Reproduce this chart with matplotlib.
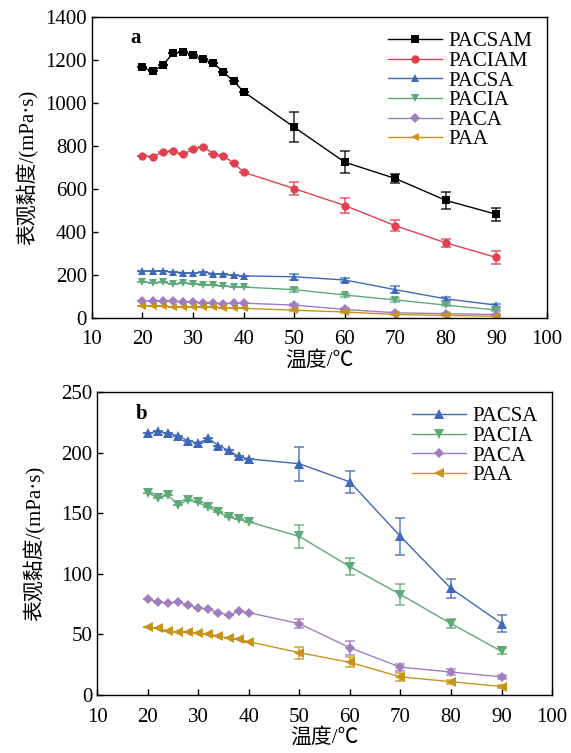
import matplotlib
matplotlib.use('Agg')
from matplotlib import pyplot as plt

plt.rcParams['font.family'] = ['Liberation Serif', 'Noto Sans CJK SC']

# 温度
temps = [20, 22, 24, 26, 28, 30, 32, 34, 36, 38, 40, 50, 60, 70, 80, 90]

# 表观黏度 and error bars (only 50-90 °C have visible error bars)
pacsam = [1168, 1148, 1176, 1232, 1240, 1224, 1204, 1187, 1145, 1103, 1053, 888, 725, 649, 547, 482]
pacsam_err = [0] * 11 + [70, 50, 23, 40, 31]
paciam = [755, 751, 771, 776, 762, 785, 796, 765, 753, 722, 678, 602, 523, 429, 349, 281]
paciam_err = [0] * 11 + [30, 33, 26, 18, 31]
pacsa = [216, 218, 216, 214, 210, 208, 212, 206, 202, 197, 195, 191, 176, 131, 88, 59]
pacsa_err = [0] * 11 + [14, 9, 15, 8, 7]
pacia = [167, 163, 165, 157, 161, 159, 155, 151, 147, 145, 143, 131, 106, 83, 59, 36]
pacia_err = [0] * 11 + [9.6, 7, 8.7, 4, 2.5]
paca = [79, 77, 76, 77, 74, 72, 71, 68, 66, 69, 68, 59, 39, 23, 19, 15]
paca_err = [0] * 11 + [4, 6, 3, 2.7, 1.5]
paa = [56, 55, 53, 52, 52, 51, 50, 49, 47, 46, 44, 35, 27, 15, 11, 7]
paa_err = [0] * 11 + [5, 4, 3.3, 1.5, 1]

series = [
    ('PACSAM', pacsam, pacsam_err, '#000000', 's'),
    ('PACIAM', paciam, paciam_err, '#e0404f', 'o'),
    ('PACSA', pacsa, pacsa_err, '#3f68b8', '^'),
    ('PACIA', pacia, pacia_err, '#5fa878', 'v'),
    ('PACA', paca, paca_err, '#9f7dbf', 'D'),
    ('PAA', paa, paa_err, '#c79419', '<'),
]

ylabel = '表观黏度/(mPa·s)'
xlabel = '温度/℃'


def draw(ax, items, ylim, yticks, tag, ms, ylpad):
    for name, y, err, c, m in items:
        s = ms * 0.8 if m == 'D' else ms
        ax.errorbar(temps, y, yerr=err, fmt='none', ecolor=c, alpha=0.85,
                    capsize=3.5, elinewidth=1.1, capthick=1.1)
        ax.plot(temps, y, color=c, marker=m, markersize=s, lw=1.0,
                markeredgewidth=0, label=name)
    ax.set_xlim(10, 100)
    ax.set_xticks(range(10, 101, 10))
    ax.set_ylim(*ylim)
    ax.set_yticks(yticks)
    ax.tick_params(direction='in', labelsize=15, length=4, width=1,
                   top=False, right=False)
    ax.tick_params(axis='x', pad=9)
    for sp in ax.spines.values():
        sp.set_linewidth(1.0)
    ax.text(0.085, 0.93, tag, transform=ax.transAxes, fontsize=15,
            fontweight='bold', va='center')
    ax.set_ylabel(ylabel, fontsize=15, labelpad=ylpad)
    ax.set_xlabel(xlabel, fontsize=15, labelpad=1)
    ax.legend(loc='upper right', frameon=False, fontsize=15, markerscale=1.0,
              handlelength=2.6, labelspacing=0.0, borderaxespad=0.3,
              handletextpad=0.3)


fig = plt.figure(figsize=(5.71, 7.53), dpi=100)
ax1 = fig.add_axes([0.161, 0.578, 0.797, 0.399])
ax2 = fig.add_axes([0.170, 0.077, 0.797, 0.402])

draw(ax1, series, (0, 1400), range(0, 1401, 200), 'a', 6, 5)
draw(ax2, series[2:], (0, 250), range(0, 251, 50), 'b', 6.5, 11)

fig.savefig('out.png', dpi=100)
